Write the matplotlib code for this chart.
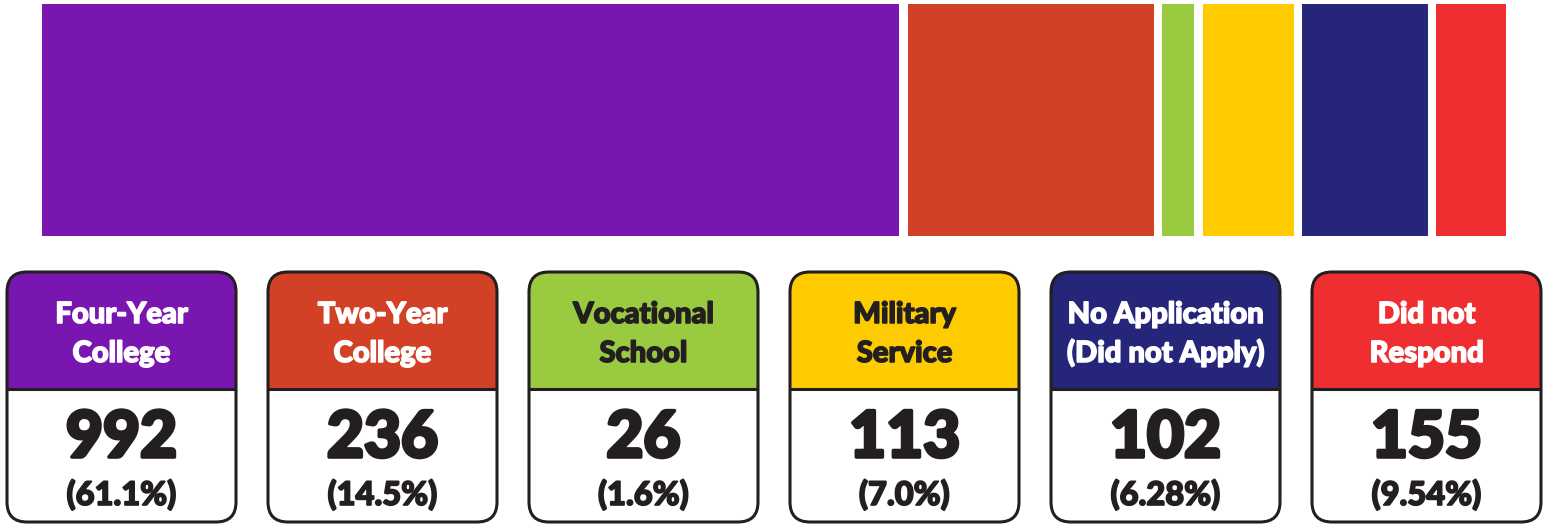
import matplotlib
matplotlib.use("Agg")
import matplotlib.pyplot as plt
from matplotlib import font_manager
import matplotlib.patheffects as pe
from matplotlib.patches import FancyBboxPatch, Rectangle

# data
labels = [
    ("Four-Year", "College"),
    ("Two-Year", "College"),
    ("Vocational", "School"),
    ("Military", "Service"),
    ("No Application", "(Did not Apply)"),
    ("Did not", "Respond"),
]
counts = [992, 236, 26, 113, 102, 155]
percents = ["(61.1%)", "(14.5%)", "(1.6%)", "(7.0%)", "(6.28%)", "(9.54%)"]
# segment shares as drawn in the top bar (they don't follow the counts exactly)
bar_share = [60.3, 17.3, 2.25, 6.4, 8.85, 4.9]
colors = ["#7A16B0", "#D24026", "#99CA3F", "#FDCB00", "#25257A", "#EE2E31"]
header_text = ["white", "white", "#231F20", "#231F20", "white", "white"]


def lato(weight):
    # pick the Lato file of that weight directly, name matching is unreliable
    for f in font_manager.fontManager.ttflist:
        if f.name == "Lato" and f.weight == weight and f.style == "normal":
            return f.fname
    return None


black_path = lato(900)


def fp(size):
    if black_path:
        return font_manager.FontProperties(fname=black_path, size=size)
    return font_manager.FontProperties(family="DejaVu Sans", weight="bold", size=size)


def heavy(color, lw):
    # the reference type is heavier than any installed face, so thicken it
    return [pe.withStroke(linewidth=lw, foreground=color)]


W, H = 1549, 525
fig = plt.figure(figsize=(W / 100, H / 100), dpi=100)

# top stacked bar
gap = 0.6
ax_bar = fig.add_axes([42 / W, 1 - 236 / H, 1464 / W, 232 / H])
left = 0
for share, col in zip(bar_share, colors):
    ax_bar.barh(0, share, left=left, height=1, color=col, linewidth=0)
    left += share + gap
ax_bar.set_xlim(0, sum(bar_share) + gap * (len(bar_share) - 1))
ax_bar.set_ylim(-0.5, 0.5)
ax_bar.axis("off")

# boxes below, in pixel coordinates
ax = fig.add_axes([0, 0, 1, 1])
ax.set_xlim(0, W)
ax.set_ylim(H, 0)
ax.axis("off")

dark = "#231F20"
box_w, pitch, x_start = 229, 261, 7
top, bottom, split = 272, 522, 389

for i, (lab, n, pct, col, tc) in enumerate(zip(labels, counts, percents, colors, header_text)):
    x0 = x_start + i * pitch
    shape = dict(boxstyle="round,pad=0,rounding_size=20")
    body = FancyBboxPatch((x0, top), box_w, bottom - top, facecolor=col,
                          edgecolor="none", **shape)
    ax.add_patch(body)
    white = Rectangle((x0 - 5, split), box_w + 10, bottom - split + 5,
                      facecolor="white", edgecolor="none")
    ax.add_patch(white)
    white.set_clip_path(body)
    ax.plot([x0, x0 + box_w], [split, split], color=dark, lw=2.2,
            solid_capstyle="butt")
    ax.add_patch(FancyBboxPatch((x0, top), box_w, bottom - top, facecolor="none",
                                edgecolor=dark, lw=2.2, **shape))
    cx = x0 + box_w / 2
    ax.text(cx, 323, lab[0], ha="center", va="baseline", color=tc,
            fontproperties=fp(21), path_effects=heavy(tc, 1.1))
    ax.text(cx, 362, lab[1], ha="center", va="baseline", color=tc,
            fontproperties=fp(21), path_effects=heavy(tc, 1.1))
    ax.text(cx, 457, str(n), ha="center", va="baseline", color=dark,
            fontproperties=fp(46), path_effects=heavy(dark, 2.6))
    ax.text(cx, 505, pct, ha="center", va="baseline", color=dark,
            fontproperties=fp(23.5), path_effects=heavy(dark, 1.2))

fig.savefig("out.png", dpi=100)
